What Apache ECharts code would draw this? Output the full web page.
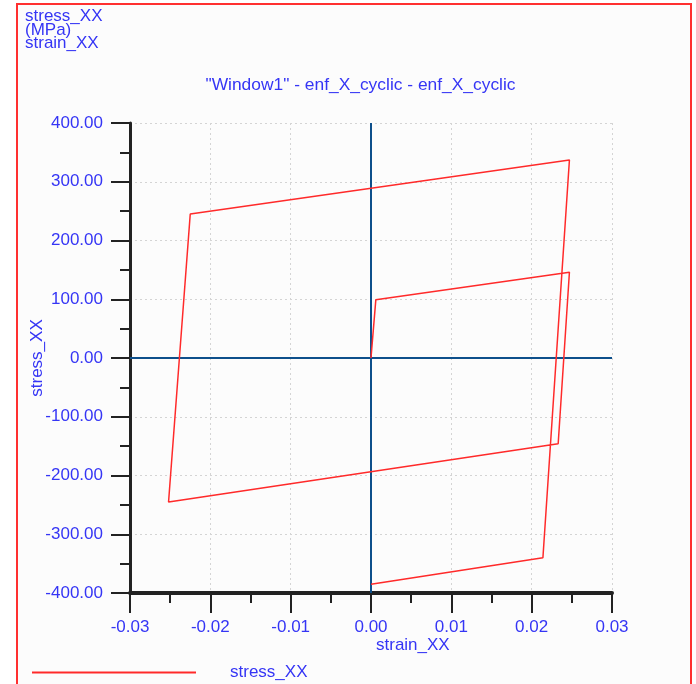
<!DOCTYPE html>
<html>
<head>
<meta charset="utf-8">
<script src="https://cdn.jsdelivr.net/npm/echarts@6/dist/echarts.min.js"></script>
<style>
html,body{margin:0;padding:0;background:#ffffff;}
#chart{width:696px;height:684px;}
</style>
</head>
<body>
<div id="chart"></div>
<script>
// Data (strain-controlled cyclic loop)
const strainValues = [0, 0.0006, 0.0247, 0.0233, -0.0252, -0.0225, 0.0247, 0.0214, 0];
const stressValues = [0, 99, 146, -146, -245, 245, 337, -340, -385];
const seriesName = 'stress_XX';
const titleText = '"Window1" - enf_X_cyclic - enf_X_cyclic';
const cornerLabel = 'stress_XX\n(MPa)\nstrain_XX';
const xAxisName = 'strain_XX';
const yAxisName = 'stress_XX';

const FONT = '"Liberation Sans", Arial, sans-serif';
const BLUE = '#3535f5';

const chart = echarts.init(document.getElementById('chart'), null, {renderer: 'canvas'});
const points = strainValues.map((s, i) => [s, stressValues[i]]);

chart.setOption({
  animation: false,
  backgroundColor: '#ffffff',
  graphic: [
    {type: 'rect', z: -10, shape: {x: 17, y: 4, width: 674, height: 690},
     style: {fill: '#fcfcfc', stroke: '#ff3030', lineWidth: 2}},
    {type: 'text', left: 25, top: 8, z: 10,
     style: {text: cornerLabel, fill: BLUE, font: '17px ' + FONT, lineHeight: 13.5}}
  ],
  title: {
    text: titleText,
    left: 355.5, top: 72, textAlign: 'center',
    textStyle: {color: BLUE, fontSize: 17.4, fontWeight: 'normal', fontFamily: FONT}
  },
  legend: {
    left: 27, top: 659,
    itemWidth: 164, itemHeight: 2,
    icon: 'rect',
    data: [seriesName],
    textStyle: {color: BLUE, fontSize: 17, fontFamily: FONT, padding: [0, 0, 0, 29]}
  },
  grid: {left: 130, right: 84, top: 123, bottom: 91, containLabel: false},
  xAxis: {
    type: 'value', min: -0.03, max: 0.03, interval: 0.01,
    name: xAxisName, nameLocation: 'middle', nameGap: 44, nameMoveOverlap: false,
    nameTextStyle: {color: BLUE, fontSize: 17, fontFamily: FONT, align: 'left', padding: [0, 0, 0, 5]},
    axisLine: {onZero: false, lineStyle: {color: '#222', width: 4}},
    axisTick: {show: true, length: 20, lineStyle: {color: '#222', width: 2}},
    minorTick: {show: true, splitNumber: 2, length: 10, lineStyle: {color: '#222', width: 2}},
    axisLabel: {color: BLUE, fontSize: 17, fontFamily: FONT, margin: 26,
      formatter: v => v.toFixed(2)},
    splitLine: {show: true, lineStyle: {color: '#d4d4d4', width: 1, type: [2, 3]}}
  },
  yAxis: {
    type: 'value', min: -400, max: 400, interval: 100,
    name: yAxisName, nameLocation: 'middle', nameGap: 84, nameRotate: 90, nameMoveOverlap: false,
    nameTextStyle: {color: BLUE, fontSize: 17, fontFamily: FONT},
    axisLine: {onZero: false, lineStyle: {color: '#222', width: 3}},
    axisTick: {show: true, length: 19, lineStyle: {color: '#222', width: 2}},
    minorTick: {show: true, splitNumber: 2, length: 10, lineStyle: {color: '#222', width: 2}},
    axisLabel: {color: BLUE, fontSize: 17, fontFamily: FONT, margin: 27,
      formatter: v => v.toFixed(2)},
    splitLine: {show: true, lineStyle: {color: '#d4d4d4', width: 1, type: [2, 3]}}
  },
  series: [{
    name: seriesName,
    type: 'line',
    data: points,
    showSymbol: false,
    symbol: 'none',
    color: '#ff2a2a',
    lineStyle: {color: '#ff2a2a', width: 1.5},
    z: 3,
    markLine: {
      silent: true, symbol: ['none', 'none'], z: 2,
      label: {show: false},
      lineStyle: {color: '#0d4f8b', width: 2, type: 'solid'},
      data: [{xAxis: 0}, {yAxis: 0}]
    }
  }]
});
</script>
</body>
</html>
